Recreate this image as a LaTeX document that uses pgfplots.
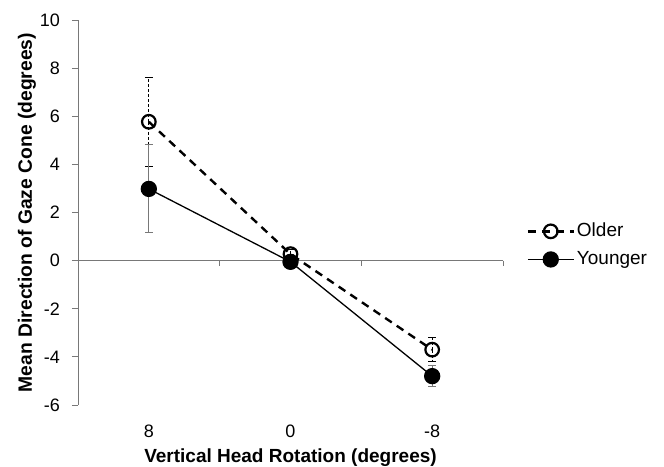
\documentclass[border=0pt]{standalone}
\usepackage{pgfplots}
\pgfplotsset{compat=1.18}
\usepackage{fontspec}
\setmainfont{Liberation Sans}
\definecolor{axgray}{RGB}{120,120,120}
\begin{document}
\fontsize{18bp}{21bp}\selectfont
\begin{tikzpicture}
\path[use as bounding box] (0,0) rectangle (664bp,467bp);
\begin{axis}[
  at={(78bp,62bp)}, anchor=south west,
  width=425bp, height=385bp, scale only axis,
  xmin=-0.5, xmax=2.5, ymin=-6, ymax=10,
  ytick={-6,-4,...,10},
  xtick={0,1,2}, xticklabels={8,0,-8},
  /pgf/number format/assume math mode=true,
  axis x line=none,
  axis y line*=left,
  y axis line style={axgray, line width=0.9bp, -},
  ytick style={axgray, line width=0.9bp},
  tick align=outside,
  major tick length=6bp,
  yticklabel style={font=\fontsize{18bp}{21bp}\selectfont, xshift=-6bp},
  ylabel={\bfseries Mean Direction of Gaze Cone (degrees)},
  ylabel style={at={(axis description cs:-0.12,0.5)}, anchor=center, font=\fontsize{19.3bp}{22bp}\selectfont},
  clip=false,
  legend style={draw=none, fill=none, at={(axis description cs:1.055,0.415)}, anchor=west,
    font=\fontsize{19bp}{22bp}\selectfont, row sep=8bp, inner sep=0pt},
  legend cell align=left,
  legend image code/.code={\draw[mark repeat=2,mark phase=2,#1] plot coordinates {(0bp,0bp)(23bp,0bp)(46bp,0bp)};},
]
% zero line
\addplot[axgray, line width=0.9bp, forget plot] coordinates {(-0.5,0) (2.5,0)};
\addplot[black, line width=2.4bp, dash pattern=on 8bp off 6bp, mark=o, mark size=6.8bp,
  mark options={solid, line width=2.2bp},
  error bars/.cd, y dir=both, y explicit,
  error bar style={black, line width=1bp, dash pattern=on 3bp off 2bp},
  error mark options={rotate=90, mark size=4bp, solid, line width=1bp}]
  coordinates {(0,5.77) +- (0,1.85) (1,0.27) +- (0,0.2) (2,-3.7) +- (0,0.5)};
\addlegendentry{Older}
\addplot[black, line width=1.3bp, mark=*, mark size=7.5bp,
  error bars/.cd, y dir=both, y explicit,
  error bar style={axgray, line width=1bp, solid},
  error mark options={rotate=90, mark size=4bp, axgray, line width=1bp}]
  coordinates {(0,2.98) +- (0,1.83) (1,-0.05) +- (0,0.2) (2,-4.8) +- (0,0.45)};
\addlegendentry{Younger}
% x ticks at category boundaries and labels
\draw[axgray, line width=0.9bp] (axis cs:0.5,0) -- ++(0pt,-5bp);
\draw[axgray, line width=0.9bp] (axis cs:1.5,0) -- ++(0pt,-5bp);
\draw[axgray, line width=0.9bp] (axis cs:2.5,0) -- ++(0pt,-5bp);
\node[anchor=base, inner sep=0pt] at ([yshift=-32bp]axis cs:0,-6) {8};
\node[anchor=base, inner sep=0pt] at ([yshift=-32bp]axis cs:1,-6) {0};
\node[anchor=base, inner sep=0pt] at ([yshift=-32bp]axis cs:2,-6) {-8};
\node[anchor=base, inner sep=0pt, font=\fontsize{19bp}{22bp}\selectfont\bfseries] at ([yshift=-57bp]axis cs:1,-6) {Vertical Head Rotation (degrees)};
\end{axis}
\end{tikzpicture}
\end{document}
